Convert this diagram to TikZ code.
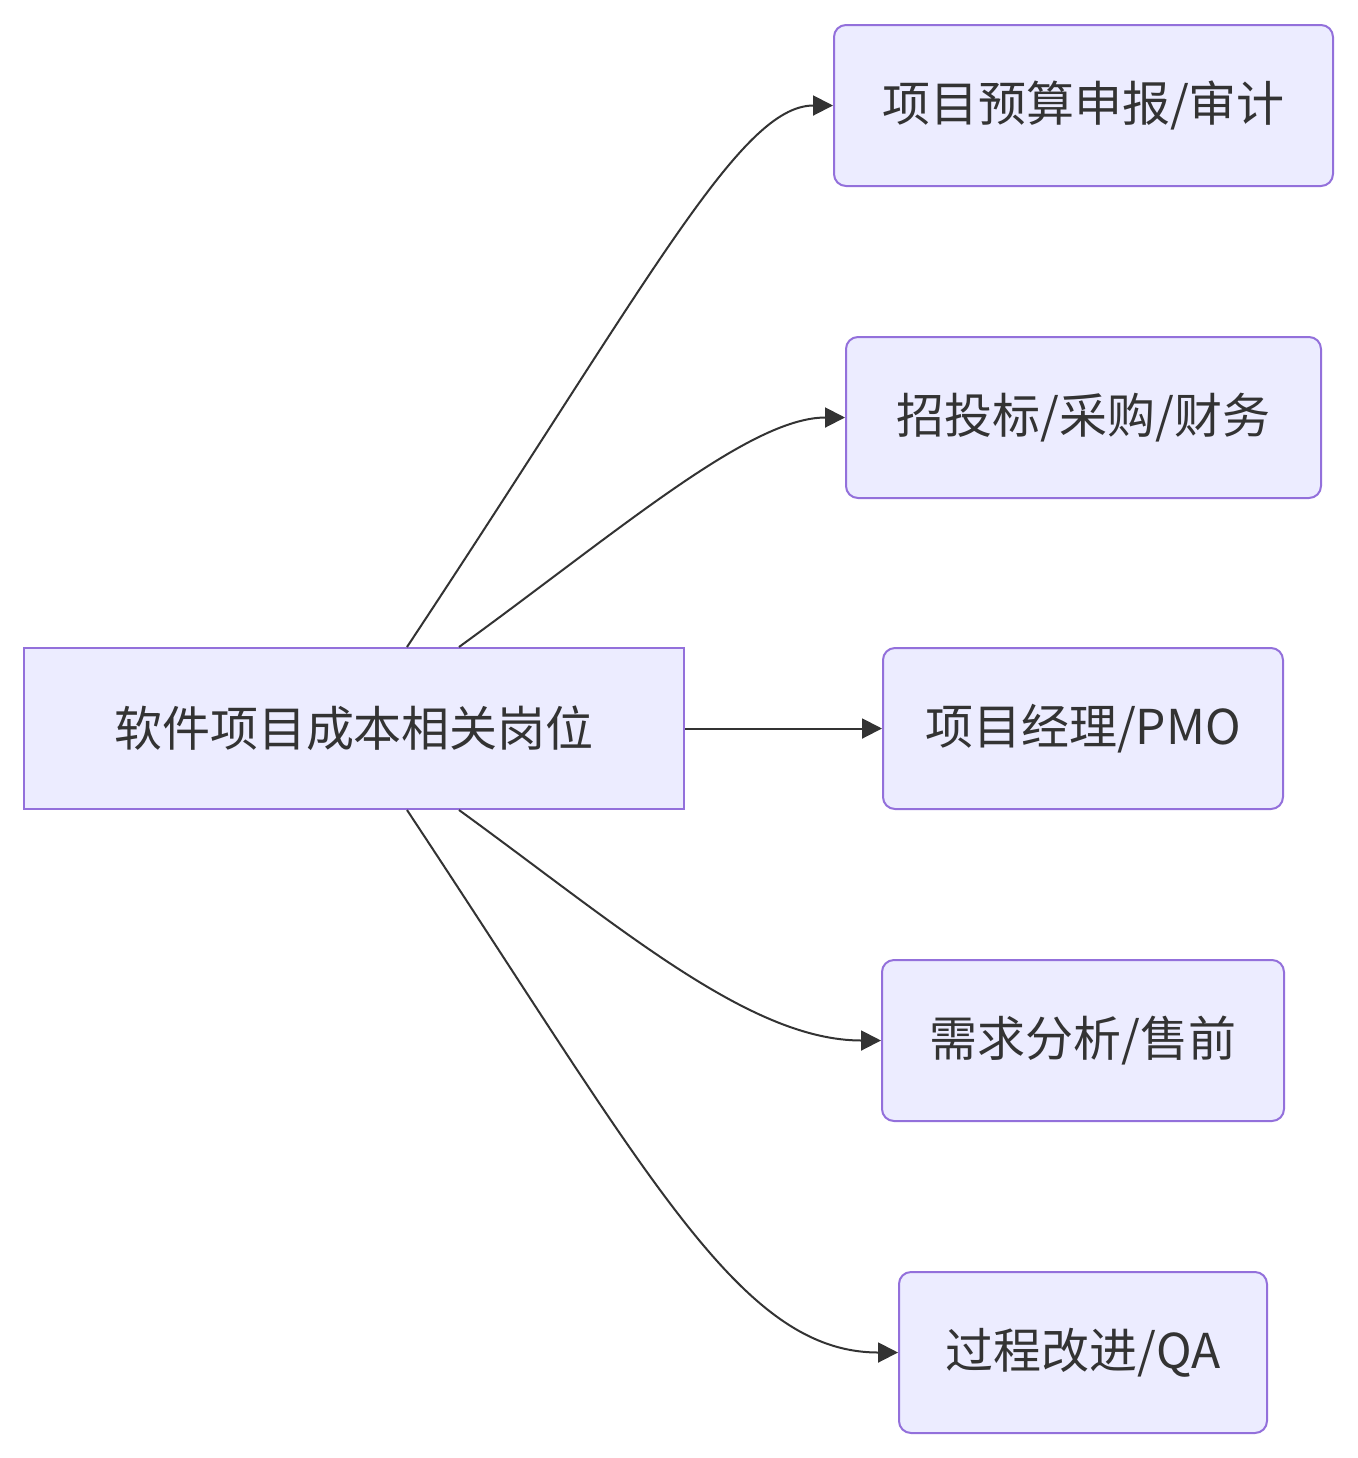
\documentclass[tikz,border=0pt]{standalone}
\usepackage{fontspec}
\setmainfont{Noto Sans CJK SC}
\usetikzlibrary{arrows.meta}
\definecolor{boxfill}{HTML}{ECECFF}
\definecolor{boxline}{HTML}{9370DB}
\definecolor{ink}{HTML}{333333}
\begin{document}
\begin{tikzpicture}[x=0.5pt,y=-0.5pt,
  box/.style={draw=boxline, fill=boxfill, line width=1pt, minimum height=80.5pt,
    inner sep=0pt, text=ink, font=\fontsize{24}{28}\selectfont},
  rbox/.style={box, rounded corners=6pt},
  link/.style={draw=ink, line width=1pt, -{Triangle[length=10pt,width=10pt]}}]
\useasboundingbox (0,0) rectangle (1357,1458);
\node[box, minimum width=330pt] (main) at (354,728.5) {软件项目成本相关岗位};
\node[rbox, minimum width=249.5pt] (b1) at (1083.5,105.5) {项目预算申报/审计};
\node[rbox, minimum width=237.5pt] (b2) at (1083.5,417.5) {招投标/采购/财务};
\node[rbox, minimum width=200pt] (b3) at (1083,728.5) {项目经理/PMO};
\node[rbox, minimum width=201pt] (b4) at (1083,1040.5) {需求分析/售前};
\node[rbox, minimum width=184pt] (b5) at (1083,1352.5) {过程改进/QA};
\draw[link] ([xshift=26.5pt]main.north) .. controls (650,280) and (740,105.5) .. (b1.west);
\draw[link] ([xshift=52.5pt]main.north) .. controls (620,530) and (750,417.5) .. (b2.west);
\draw[link] (main.east) -- (b3.west);
\draw[link] ([xshift=52.5pt]main.south) .. controls (620,927) and (750,1040.5) .. (b4.west);
\draw[link] ([xshift=26.5pt]main.south) .. controls (650,1177) and (740,1352.5) .. (b5.west);
\end{tikzpicture}
\end{document}
